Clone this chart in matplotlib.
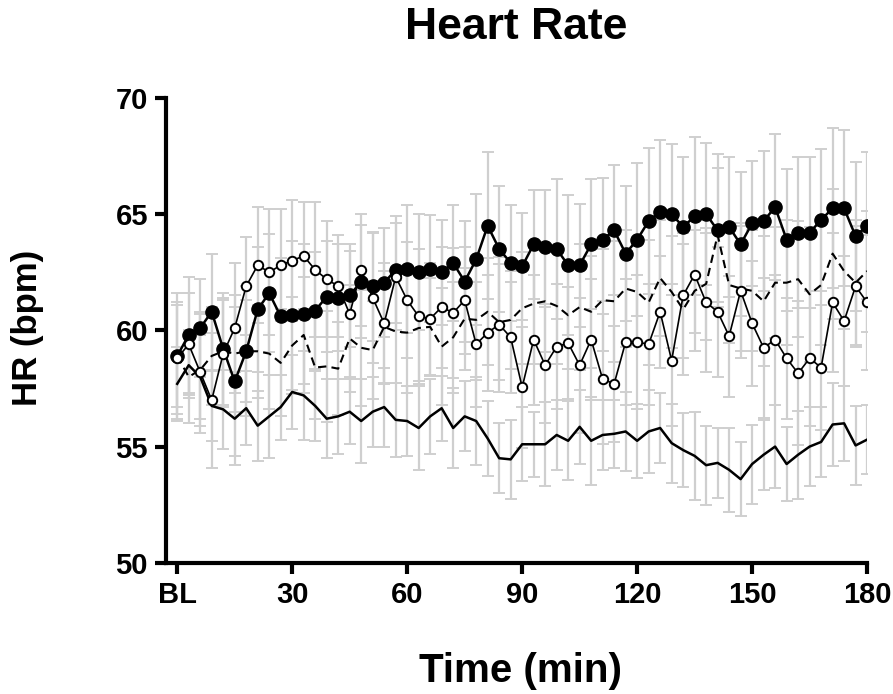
import matplotlib
matplotlib.use("Agg")
import matplotlib.pyplot as plt

plt.rcParams['font.family'] = ['Liberation Sans', 'DejaVu Sans']

time_min = [0, 3, 6, 9, 12, 15, 18, 21, 24, 27, 30, 33, 36, 39, 42, 45, 48, 51, 54, 57,
            60, 63, 66, 69, 72, 75, 78, 81, 84, 87, 90, 93, 96, 99, 102, 105, 108, 111, 114, 117,
            120, 123, 126, 129, 132, 135, 138, 141, 144, 147, 150, 153, 156, 159, 162, 165, 168, 171, 174, 177, 180]

x_ticks = [0, 30, 60, 90, 120, 150, 180]
x_tick_labels = ["BL", "30", "60", "90", "120", "150", "180"]
y_ticks = [50, 55, 60, 65, 70]

filled = [58.9, 59.8, 60.1, 60.8, 59.2, 57.8, 59.1, 60.9, 61.6, 60.6,
          60.65, 60.7, 60.85, 61.45, 61.4, 61.5, 62.1, 61.9, 62.05, 62.6,
          62.65, 62.5, 62.65, 62.5, 62.9, 62.1, 63.05, 64.5, 63.5, 62.9,
          62.75, 63.7, 63.6, 63.5, 62.8, 62.8, 63.7, 63.9, 64.3, 63.3,
          63.9, 64.7, 65.1, 65.0, 64.45, 64.9, 65.0, 64.3, 64.45, 63.7,
          64.6, 64.7, 65.3, 63.9, 64.2, 64.2, 64.75, 65.25, 65.25, 64.05, 64.5]
filled_err = [2.7, 2.5, 2.1, 2.5, 2.4, 3.2, 2.8, 2.7, 2.55, 2.5,
              3.2, 3.0, 2.5, 2.4, 2.3, 2.2, 2.45, 2.35, 2.35, 2.3,
              2.75, 2.5, 2.3, 2.25, 2.5, 2.6, 2.8, 3.15, 2.7, 2.5,
              2.3, 2.35, 2.45, 3.0, 3.0, 2.65, 2.8, 2.65, 2.8, 2.9,
              3.3, 3.15, 3.1, 3.0, 3.0, 3.4, 3.05, 3.3, 3.0, 3.1,
              2.7, 3.0, 3.15, 3.05, 3.25, 3.25, 3.05, 3.45, 3.35, 3.2, 3.15]

opened = [58.8, 59.4, 58.2, 57.0, 59.0, 60.1, 61.9, 62.8, 62.5, 62.8,
          63.0, 63.2, 62.6, 62.2, 61.9, 60.7, 62.6, 61.4, 60.3, 62.3,
          61.3, 60.6, 60.5, 61.0, 60.75, 61.3, 59.4, 59.9, 60.25, 59.7,
          57.55, 59.6, 58.5, 59.3, 59.45, 58.5, 59.6, 57.9, 57.7, 59.5,
          59.5, 59.4, 60.8, 58.7, 61.5, 62.4, 61.2, 60.8, 59.75, 61.7,
          60.3, 59.25, 59.6, 58.8, 58.15, 58.8, 58.4, 61.2, 60.4, 61.9, 61.2]
opened_err = [2.4, 2.2, 2.6, 2.9, 2.3, 2.8, 2.1, 2.5, 2.7, 2.4,
              2.6, 2.3, 2.9, 2.5, 2.2, 2.7, 2.4, 2.8, 2.6, 2.3,
              2.5, 2.9, 2.4, 2.6, 2.8, 2.3, 2.7, 2.5, 2.9, 2.4,
              2.6, 2.8, 2.5, 2.7, 2.4, 2.9, 2.6, 2.8, 2.5, 2.7,
              2.9, 2.6, 2.4, 2.8, 2.7, 2.5, 3.0, 2.8, 2.6, 2.9,
              2.7, 3.0, 2.8, 2.6, 3.1, 2.9, 2.7, 3.0, 2.8, 2.6, 2.9]

dashed = [58.9, 58.0, 58.3, 58.9, 59.1, 59.0, 59.1, 59.1, 59.0, 58.6,
          59.35, 59.8, 58.4, 58.45, 58.35, 59.65, 59.25, 59.15, 60.15, 59.95,
          59.9, 60.1, 60.15, 59.3, 59.7, 60.5, 60.45, 60.8, 60.35, 60.45,
          60.95, 61.15, 61.25, 61.05, 60.65, 61.0, 60.8, 61.3, 61.25, 61.8,
          61.65, 61.2, 62.25, 61.65, 60.9, 61.7, 62.0, 64.1, 61.95, 61.8,
          61.7, 61.25, 62.05, 62.05, 62.2, 61.55, 61.95, 63.3, 62.55, 62.05, 62.55]
dashed_err = [2.2, 2.0, 2.4, 2.1, 2.3, 2.5, 2.2, 2.0, 2.4, 2.3,
              2.1, 2.5, 2.2, 2.4, 2.0, 2.3, 2.5, 2.1, 2.4, 2.2,
              2.6, 2.3, 2.1, 2.5, 2.4, 2.2, 2.6, 2.3, 2.5, 2.1,
              2.4, 2.6, 2.2, 2.5, 2.3, 2.7, 2.4, 2.2, 2.6, 2.5,
              2.3, 2.7, 2.5, 2.4, 2.8, 2.6, 2.4, 2.9, 2.5, 2.7,
              2.6, 2.8, 2.4, 2.7, 2.5, 2.9, 2.6, 2.8, 2.5, 2.7, 2.6]

solid = [57.7, 58.5, 58.0, 56.75, 56.6, 56.2, 56.65, 55.9, 56.3, 56.7,
         57.35, 57.2, 56.75, 56.2, 56.3, 56.5, 56.1, 56.5, 56.7, 56.15,
         56.1, 55.8, 56.3, 56.65, 55.8, 56.3, 56.1, 55.35, 54.5, 54.45,
         55.1, 55.1, 55.1, 55.5, 55.25, 55.85, 55.25, 55.5, 55.55, 55.65,
         55.25, 55.65, 55.8, 55.15, 54.85, 54.6, 54.2, 54.3, 54.0, 53.6,
         54.25, 54.65, 55.0, 54.25, 54.65, 55.0, 55.2, 55.95, 56.0, 55.05, 55.3]
solid_err = [1.6, 1.4, 1.8, 1.5, 1.7, 2.0, 1.6, 1.5, 1.8, 1.4,
             1.6, 1.9, 1.5, 1.7, 1.6, 1.4, 1.8, 1.5, 1.7, 1.6,
             1.5, 1.8, 1.6, 1.4, 1.7, 1.5, 1.9, 1.6, 1.5, 1.7,
             1.6, 1.4, 1.8, 1.5, 1.7, 1.6, 1.9, 1.5, 1.45, 1.7,
             1.6, 1.8, 1.5, 1.7, 1.6, 1.9, 1.7, 1.5, 1.8, 1.6,
             1.7, 1.5, 1.8, 1.6, 1.9, 1.7, 1.5, 1.8, 1.6, 1.7, 1.5]

GRAY = "#cfcfcf"

fig = plt.figure(figsize=(8.93, 6.94), dpi=100)
ax = fig.add_axes([0.186, 0.189, 0.785, 0.670])

eb_kw = dict(fmt="none", ecolor=GRAY, elinewidth=1.6, capsize=4.5, capthick=1.4, zorder=1)
ax.errorbar(time_min, solid, yerr=solid_err, **eb_kw)
ax.errorbar(time_min, dashed, yerr=dashed_err, **eb_kw)
ax.errorbar(time_min, opened, yerr=opened_err, **eb_kw)
ax.errorbar(time_min, filled, yerr=filled_err, **eb_kw)

ax.plot(time_min, solid, color="black", lw=1.8, zorder=3)
ax.plot(time_min, dashed, color="black", lw=1.5, ls=(0, (4, 2.5)), zorder=3)
ax.plot(time_min, filled, color="black", lw=1.8, marker="o", markersize=9.5,
        markerfacecolor="black", markeredgecolor="black", zorder=4)
ax.plot(time_min, opened, color="black", lw=1.2, marker="o", markersize=6.8,
        markerfacecolor="white", markeredgecolor="black", markeredgewidth=1.4, zorder=5)

ax.set_xlim(-2.9, 180)
ax.set_ylim(50, 70)
ax.set_xticks(x_ticks)
ax.set_xticklabels(x_tick_labels)
ax.set_yticks(y_ticks)

for s in ["top", "right"]:
    ax.spines[s].set_visible(False)
for s in ["left", "bottom"]:
    ax.spines[s].set_linewidth(3)
ax.tick_params(axis="both", width=3, length=8, labelsize=21, pad=5)
for lab in ax.get_xticklabels() + ax.get_yticklabels():
    lab.set_fontweight("bold")

ax.set_xlabel("Time (min)", fontsize=29, fontweight="bold")
ax.set_ylabel("HR (bpm)", fontsize=25, fontweight="bold")
ax.xaxis.label.set_va("center")
ax.yaxis.label.set_va("center")
ax.xaxis.set_label_coords(0.505, -0.232)
ax.yaxis.set_label_coords(-0.198, 0.505)
fig.suptitle("Heart Rate", fontsize=32, fontweight="bold", x=0.578, y=0.99)

fig.savefig("out.png", dpi=100)
